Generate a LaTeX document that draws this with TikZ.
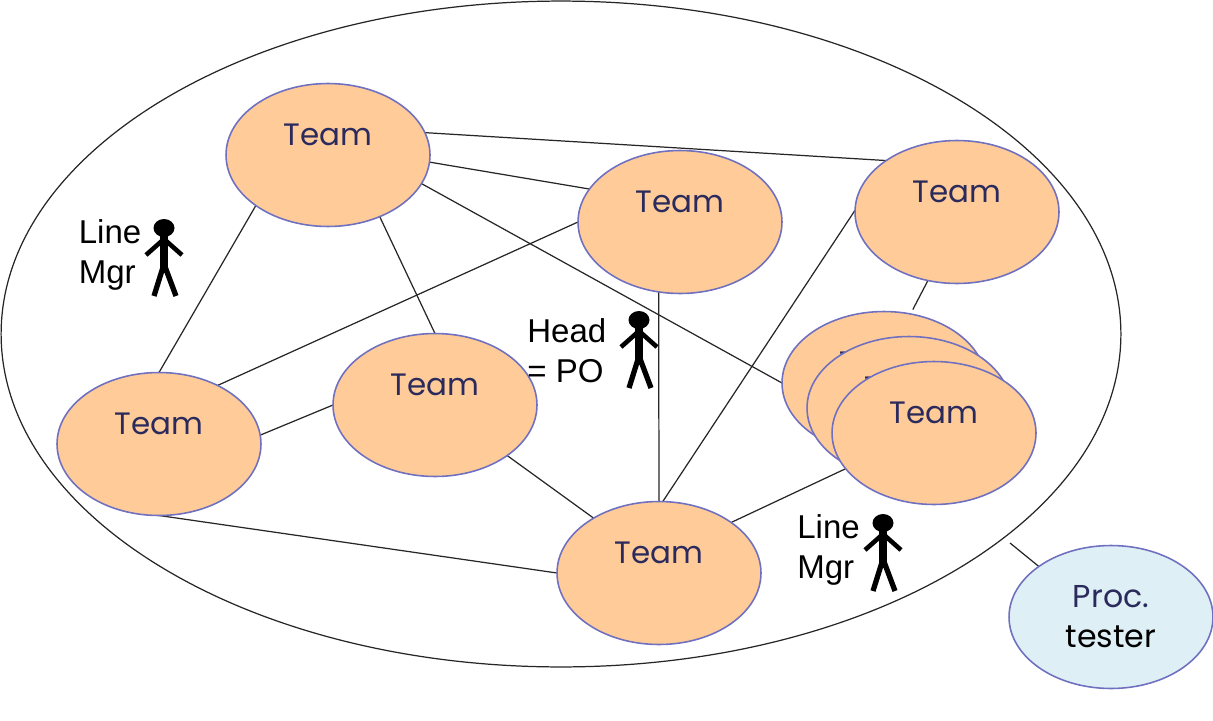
\documentclass[tikz,border=0pt]{standalone}
\usepackage{fontspec}
\setmainfont{Liberation Sans}
\newfontfamily\teamfont{Poppins}
\usetikzlibrary{shapes.geometric,backgrounds}
\definecolor{teamfill}{HTML}{FFCC99}
\definecolor{procfill}{HTML}{DEF0F5}
\definecolor{rimblue}{HTML}{7070C0}
\definecolor{inkblue}{HTML}{2A2A5C}
\tikzset{
  blob/.style={ellipse,draw=rimblue,line width=0.9pt,inner sep=0pt,outer sep=0pt,minimum width=4.08cm,minimum height=2.86cm},
  team/.style={blob,fill=teamfill,text=inkblue,font=\teamfont\fontsize{17.6}{20}\selectfont,text height=0.5cm,text depth=0.9cm},
  proc/.style={blob,fill=procfill,align=center,font=\teamfont\fontsize{18}{22.7}\selectfont},
  who/.style={align=left,anchor=west,inner sep=0pt,font=\fontsize{18.8}{22.7}\selectfont},
  link/.style={line width=0.7pt,black!85},
  man/.pic={
    \fill[black] (0,0) ellipse (0.21cm and 0.18cm);
    \draw[black,line width=4pt] (0,4) -- (0,41);
    \draw[black,line width=2.6pt] (-18,27) -- (0,11) -- (18,27);
    \draw[black,line width=3pt] (-10,68) -- (0,36) -- (12,68);
  }
}
\begin{document}
\begin{tikzpicture}[x=0.02cm,y=-0.02cm]
  \useasboundingbox (0,0) rectangle (1213,720);
  \node[ellipse,draw=black!85,line width=0.7pt,inner sep=0pt,outer sep=0pt,minimum width=22.4cm,minimum height=13.32cm] (org) at (561,334) {};
  \node[team] (head) at (328,155) {Team};
  \node[team] (mid) at (680,222) {Team};
  \node[team] (right) at (957,212) {Team};
  \node[team] (left) at (159,444) {Team};
  \node[team] (inner) at (435,405) {Team};
  \node[team] (backa) at (884,383) {Team};
  \node[team] (backb) at (909,408) {Team};
  \node[team] (front) at (934,433) {Team};
  \node[team] (low) at (659,573) {Team};
  \node[proc] (tester) at (1111,617) {\textcolor{inkblue}{Proc.}\\tester};
  \coordinate (testerend) at (1010,543);
  \begin{scope}[on background layer]
    \draw[link] (head.13) -- (right.144);
    \draw[link] (head.-4) -- (mid.160);
    \draw[link] (head.-17) -- (backa.180);
    \draw[link] (head.215) -- (left.90);
    \draw[link] (head.-50) -- (inner.90);
    \draw[link] (left.45) -- (mid.180);
    \draw[link] (left.5) -- (inner.180);
    \draw[link] (left.270) -- (low.180);
    \draw[link] (inner.-35) -- (low.140);
    \draw[link] (mid.253) -- (low.90);
    \draw[link] (right.179) -- (low.87);
    \draw[link] (front.202) -- (low.35);
    \draw[link,shorten >=0.1cm] (right.247) -- (backa.69);
    \draw[link] (testerend) -- (tester.145);
  \end{scope}
  \node[who] (mgra) at (78.5,255) {Line\\Mgr};
  \node[who] (po) at (527,351) {Head\\= PO};
  \node[who] (mgrb) at (797,550) {Line\\Mgr};
  \pic at (164,228) {man};
  \pic at (639,320) {man};
  \pic at (883,523) {man};
\end{tikzpicture}
\end{document}
